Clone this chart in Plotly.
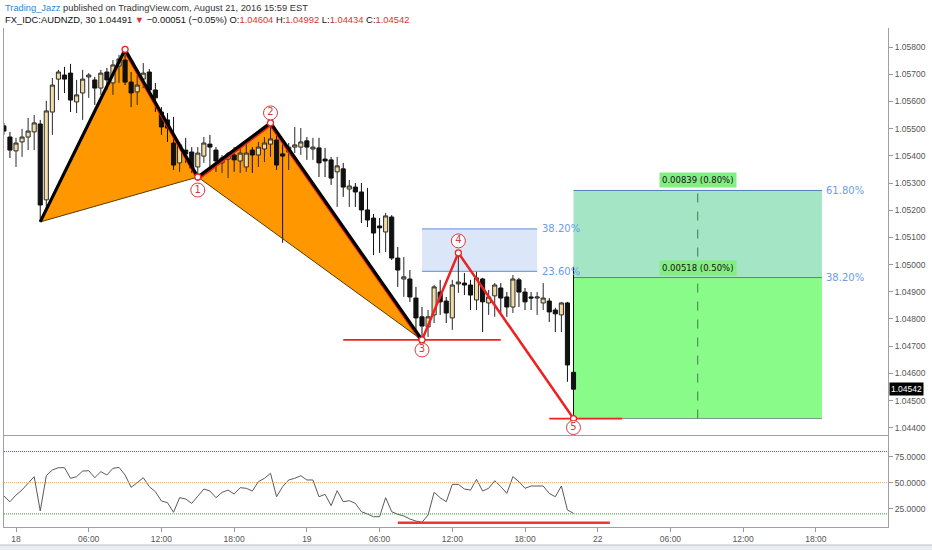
import plotly.graph_objects as go

# ---------------- data ----------------
bar_index = list(range(-2, 93))
open_ = [1.05510, 1.05469, 1.05418, 1.05451, 1.05469, 1.05488, 1.05517, 1.05238, 1.05561, 1.05682,
         1.05697, 1.05704, 1.05598, 1.05631, 1.05690, 1.05679, 1.05649, 1.05708, 1.05668, 1.05730,
         1.05752, 1.05671, 1.05635, 1.05682, 1.05708, 1.05642, 1.05561, 1.05532, 1.05447, 1.05374,
         1.05421, 1.05414, 1.05359, 1.05399, 1.05443, 1.05421, 1.05374, 1.05388, 1.05403, 1.05381,
         1.05359, 1.05421, 1.05403, 1.05425, 1.05443, 1.05458, 1.05407, 1.05414, 1.05432, 1.05432,
         1.05455, 1.05425, 1.05429, 1.05388, 1.05385, 1.05341, 1.05352, 1.05278, 1.05285, 1.05267,
         1.05201, 1.05171, 1.05142, 1.05120, 1.05175, 1.05024, 1.04947, 1.04947, 1.04877, 1.04808,
         1.04771, 1.04815, 1.04899, 1.04866, 1.04804, 1.04929, 1.04932, 1.04925, 1.04870, 1.04947,
         1.04859, 1.04885, 1.04914, 1.04881, 1.04844, 1.04944, 1.04899, 1.04881, 1.04877, 1.04859,
         1.04866, 1.04833, 1.04815, 1.04859, 1.04604]
high = [1.05521, 1.05488, 1.05466, 1.05499, 1.05539, 1.05550, 1.05532, 1.05602, 1.05686, 1.05716,
        1.05727, 1.05738, 1.05679, 1.05716, 1.05704, 1.05690, 1.05716, 1.05723, 1.05752, 1.05771,
        1.05791, 1.05708, 1.05697, 1.05741, 1.05719, 1.05668, 1.05579, 1.05557, 1.05543, 1.05451,
        1.05466, 1.05432, 1.05432, 1.05469, 1.05477, 1.05432, 1.05403, 1.05414, 1.05432, 1.05436,
        1.05447, 1.05432, 1.05451, 1.05469, 1.05521, 1.05488, 1.05458, 1.05447, 1.05506, 1.05502,
        1.05469, 1.05466, 1.05466, 1.05429, 1.05396, 1.05396, 1.05374, 1.05311, 1.05300, 1.05300,
        1.05282, 1.05186, 1.05171, 1.05190, 1.05182, 1.05065, 1.05028, 1.04980, 1.04918, 1.04844,
        1.04833, 1.04925, 1.04944, 1.04881, 1.04944, 1.05043, 1.04969, 1.04944, 1.04973, 1.04951,
        1.04907, 1.04932, 1.04932, 1.04899, 1.04962, 1.04951, 1.04914, 1.04899, 1.04899, 1.04932,
        1.04877, 1.04841, 1.04863, 1.04863, 1.04992]
low = [1.05477, 1.05392, 1.05359, 1.05396, 1.05421, 1.05421, 1.05157, 1.05201, 1.05477, 1.05605,
       1.05631, 1.05561, 1.05557, 1.05532, 1.05613, 1.05587, 1.05624, 1.05642, 1.05624, 1.05668,
       1.05660, 1.05579, 1.05587, 1.05649, 1.05624, 1.05561, 1.05477, 1.05451, 1.05348, 1.05341,
       1.05374, 1.05337, 1.05322, 1.05374, 1.05341, 1.05341, 1.05337, 1.05318, 1.05341, 1.05337,
       1.05341, 1.05337, 1.05359, 1.05377, 1.05396, 1.05348, 1.05080, 1.05348, 1.05410, 1.05403,
       1.05385, 1.05385, 1.05322, 1.05322, 1.05293, 1.05212, 1.05249, 1.05212, 1.05212, 1.05153,
       1.05138, 1.05035, 1.05043, 1.05046, 1.05017, 1.04918, 1.04881, 1.04863, 1.04760, 1.04723,
       1.04734, 1.04785, 1.04815, 1.04785, 1.04760, 1.04896, 1.04888, 1.04833, 1.04833, 1.04752,
       1.04815, 1.04808, 1.04822, 1.04808, 1.04822, 1.04844, 1.04833, 1.04833, 1.04815, 1.04833,
       1.04789, 1.04752, 1.04752, 1.04569, 1.04434]
close = [1.05491, 1.05421, 1.05447, 1.05469, 1.05491, 1.05521, 1.05219, 1.05565, 1.05660, 1.05708,
         1.05682, 1.05605, 1.05624, 1.05682, 1.05697, 1.05649, 1.05704, 1.05679, 1.05734, 1.05756,
         1.05671, 1.05631, 1.05660, 1.05704, 1.05642, 1.05613, 1.05506, 1.05502, 1.05366, 1.05440,
         1.05407, 1.05355, 1.05410, 1.05447, 1.05432, 1.05381, 1.05392, 1.05407, 1.05385, 1.05410,
         1.05410, 1.05403, 1.05432, 1.05447, 1.05462, 1.05366, 1.05399, 1.05432, 1.05440, 1.05451,
         1.05432, 1.05432, 1.05374, 1.05381, 1.05318, 1.05363, 1.05285, 1.05289, 1.05267, 1.05201,
         1.05164, 1.05116, 1.05135, 1.05179, 1.05024, 1.04980, 1.04955, 1.04881, 1.04804, 1.04774,
         1.04808, 1.04918, 1.04863, 1.04822, 1.04925, 1.04936, 1.04925, 1.04888, 1.04951, 1.04863,
         1.04881, 1.04925, 1.04877, 1.04844, 1.04947, 1.04899, 1.04863, 1.04877, 1.04881, 1.04877,
         1.04826, 1.04819, 1.04859, 1.04631, 1.04542]
rsi = [37.2, 31.7, 38.1, 43.0, 49.5, 55.8, 22.8, 56.7, 62.2, 64.4,
       64.4, 54.2, 55.8, 61.2, 61.5, 54.8, 60.6, 57.4, 63.8, 64.7,
       57.4, 45.5, 50.0, 54.8, 46.2, 41.3, 32.4, 30.8, 21.5, 35.6,
       34.3, 30.1, 37.0, 43.9, 42.0, 35.6, 40.7, 42.9, 39.1, 45.2,
       44.6, 42.0, 51.0, 54.2, 59.0, 36.5, 46.2, 52.6, 54.2, 56.7,
       52.6, 52.6, 36.5, 38.8, 27.9, 42.3, 31.7, 32.7, 30.1, 22.1,
       19.9, 17.3, 17.3, 35.6, 22.1, 19.6, 18.0, 15.1, 13.1, 11.9,
       18.9, 40.7, 35.6, 31.7, 48.4, 48.4, 43.9, 42.9, 53.2, 42.0,
       44.6, 51.9, 46.2, 39.7, 55.8, 51.0, 44.6, 46.8, 46.8, 46.8,
       39.7, 36.5, 46.8, 23.7, 20.5]

tick_index = [0, 12, 24, 36, 48, 60, 72, 84, 96, 108, 120, 132]
tick_labels = ["18", "06:00", "12:00", "18:00", "19", "06:00", "12:00", "18:00",
               "22", "06:00", "12:00", "18:00"]
price_ticks = [1.044, 1.045, 1.046, 1.047, 1.048, 1.049, 1.050, 1.051, 1.052,
               1.053, 1.054, 1.055, 1.056, 1.057, 1.058]
rsi_ticks = [25, 50, 75]
rsi_levels = [80, 50, 20]
rsi_level_colors = ["#e53935", "#f5a04a", "#3d9a3d"]

# XABCD-style pattern points: X, A, B(1), C(2), D(3), E(4), F(5)
pattern_idx = [4, 18, 30, 42, 67, 73, 92]
pattern_px = [1.05157, 1.05791, 1.05322, 1.05521, 1.04723, 1.05043, 1.04434]
point_labels = ["1", "2", "3", "4", "5"]

fib_box_ratios = [0.236, 0.382]      # retracement A -> D
target_ratios = [0.382, 0.618]       # retracement A -> F
fib_box_span = (67, 86)
target_span = (92, 133)
d_line_span = (54, 80)
f_line_span = (88, 100)
rsi_line_span = (63, 98)
rsi_line_value = 11.5
last_price = 1.04542

# ---------------- geometry ----------------
FONT = "Liberation Sans, Arial, sans-serif"
W, H = 932, 550
ML, MR, MT, MB = 4, 44, 28, 23
plot_h = H - MT - MB
main_dom = [0.184, 1.0]
rsi_dom = [0.0, 0.182]
y_min, y_max = 1.043728, 1.058699
x_rng = [-1.98, 143.9]
rsi_rng = [7.4, 94.7]
ppx = (y_max - y_min) / (plot_h * (main_dom[1] - main_dom[0]))  # price per pixel

X, A, B, C, D, E, F = list(zip(pattern_idx, pattern_px))

fig = go.Figure()

# candles
fig.add_trace(go.Candlestick(
    x=bar_index, open=open_, high=high, low=low, close=close,
    increasing=dict(line=dict(color="#2a2a2a", width=1), fillcolor="#f2dca6"),
    decreasing=dict(line=dict(color="#111111", width=1), fillcolor="#111111"),
    whiskerwidth=0, hoverinfo="skip", xaxis="x", yaxis="y"))

# pattern lines
red = "#ee2222"
off = 2.3 * ppx
seg = [A, B, C, D]
fig.add_trace(go.Scatter(x=[p[0] for p in seg], y=[p[1] - off for p in seg],
                         mode="lines", line=dict(color=red, width=2.5),
                         hoverinfo="skip", xaxis="x", yaxis="y"))
fig.add_trace(go.Scatter(x=[X[0], B[0]], y=[X[1], B[1]], mode="lines",
                         line=dict(color="#5a3b00", width=1), hoverinfo="skip"))
fig.add_trace(go.Scatter(x=[B[0], D[0]], y=[B[1], D[1]], mode="lines",
                         line=dict(color="#5a3b00", width=1), hoverinfo="skip"))
fig.add_trace(go.Scatter(x=[X[0], A[0], B[0], C[0], D[0]], y=[X[1], A[1], B[1], C[1], D[1]],
                         mode="lines", line=dict(color="#000000", width=3.2), hoverinfo="skip"))
fig.add_trace(go.Scatter(x=[D[0], E[0], F[0]], y=[D[1], E[1], F[1]], mode="lines",
                         line=dict(color=red, width=2.5), hoverinfo="skip"))

# horizontal red lines at D and F
fig.add_trace(go.Scatter(x=list(d_line_span), y=[D[1], D[1]], mode="lines",
                         line=dict(color=red, width=1.8), hoverinfo="skip"))
fig.add_trace(go.Scatter(x=list(f_line_span), y=[F[1], F[1]], mode="lines",
                         line=dict(color=red, width=1.8), hoverinfo="skip"))

# small vertex markers
fig.add_trace(go.Scatter(x=[A[0], B[0], C[0], D[0], E[0], F[0]],
                         y=[A[1], B[1], C[1], D[1], E[1], F[1]], mode="markers",
                         marker=dict(size=6, color="white", line=dict(color=red, width=1.3)),
                         hoverinfo="skip"))

# numbered circles
label_pts = [B, C, D, E, F]
label_dir = [-13, 10, -10, 12, -9]
fig.add_trace(go.Scatter(
    x=[p[0] for p in label_pts],
    y=[p[1] + d * ppx for p, d in zip(label_pts, label_dir)],
    mode="markers+text", text=point_labels, textposition="middle center",
    textfont=dict(color="#d63a3a", size=10, family="DejaVu Sans"),
    marker=dict(size=14, color="white", line=dict(color="#d63a3a", width=1)),
    hoverinfo="skip"))

# RSI
fig.add_trace(go.Scatter(x=bar_index, y=rsi, mode="lines", line=dict(color="#5a5a5a", width=1),
                         hoverinfo="skip", xaxis="x2", yaxis="y2"))
for lv, col in zip(rsi_levels, rsi_level_colors):
    fig.add_trace(go.Scatter(x=x_rng, y=[lv, lv], mode="lines",
                             line=dict(color=col, width=1, dash="1px,1px"),
                             hoverinfo="skip", xaxis="x2", yaxis="y2"))
fig.add_trace(go.Scatter(x=list(rsi_line_span), y=[rsi_line_value] * 2, mode="lines",
                         line=dict(color="#f03535", width=2.5), hoverinfo="skip",
                         xaxis="x2", yaxis="y2"))

shapes = []
# orange triangles
for tri in ([X, A, B], [B, C, D]):
    path = "M {},{} L {},{} L {},{} Z".format(tri[0][0], tri[0][1], tri[1][0], tri[1][1],
                                             tri[2][0], tri[2][1])
    shapes.append(dict(type="path", path=path, xref="x", yref="y", fillcolor="#ff9800",
                       line=dict(width=0), layer="below"))

# fib box A->D
fib_lv = [D[1] + r * (A[1] - D[1]) for r in fib_box_ratios]
shapes.append(dict(type="rect", xref="x", yref="y", x0=fib_box_span[0], x1=fib_box_span[1],
                   y0=fib_lv[0], y1=fib_lv[1], fillcolor="#dbe6f8", line=dict(width=0),
                   layer="below"))
for lv in fib_lv:
    shapes.append(dict(type="line", xref="x", yref="y", x0=fib_box_span[0], x1=fib_box_span[1],
                       y0=lv, y1=lv, line=dict(color="#7aa3e0", width=1.2), layer="below"))

# target box A->F
tgt = [F[1] + r * (A[1] - F[1]) for r in target_ratios]
shapes.append(dict(type="rect", xref="x", yref="y", x0=target_span[0], x1=target_span[1],
                   y0=F[1], y1=tgt[0], fillcolor="#88fb88", line=dict(width=0), layer="below"))
shapes.append(dict(type="rect", xref="x", yref="y", x0=target_span[0], x1=target_span[1],
                   y0=tgt[0], y1=tgt[1], fillcolor="#a3e5c4", line=dict(width=0), layer="below"))
for lv, col in ((tgt[0], "#4f7fb8"), (tgt[1], "#4f7fb8"), (F[1], "#7a9a8a")):
    shapes.append(dict(type="line", xref="x", yref="y", x0=target_span[0], x1=target_span[1],
                       y0=lv, y1=lv, line=dict(color=col, width=1), layer="below"))
mid = (target_span[0] + target_span[1]) / 2
shapes.append(dict(type="line", xref="x", yref="y", x0=mid, x1=mid, y0=F[1], y1=tgt[1],
                   line=dict(color="#3f7a4a", width=1, dash="dash"), layer="below"))

# frame: bottom band
shapes.append(dict(type="rect", xref="paper", yref="paper", x0=-0.01, x1=1.06,
                   y0=-(545 - (H - MB)) / plot_h, y1=-0.2, fillcolor="#eaeef3",
                   line=dict(color="#c0c0c0", width=1), layer="above"))

ann = []
lbl_font = dict(family="DejaVu Sans", size=10, color="#6c9de6")
for lv, r in zip(fib_lv, fib_box_ratios):
    ann.append(dict(x=fib_box_span[1] + 0.4, y=lv, xref="x", yref="y", text=f"{r*100:.2f}%",
                    showarrow=False, xanchor="left", yanchor="middle", font=lbl_font))
for lv, r in zip(tgt, target_ratios):
    ann.append(dict(x=target_span[1] + 0.4, y=lv, xref="x", yref="y", text=f"{r*100:.2f}%",
                    showarrow=False, xanchor="left", yanchor="middle", font=lbl_font))
for lv in tgt:
    dlt = lv - F[1]
    ann.append(dict(x=mid, y=lv, xref="x", yref="y", yshift=10,
                    text=f"{dlt:.5f} ({dlt / F[1] * 100:.2f}%)", showarrow=False,
                    bgcolor="#84ee84", borderpad=2,
                    font=dict(family="DejaVu Sans", size=8.5, color="#111111")))
# last price tag
ann.append(dict(x=1, y=last_price, xref="paper", yref="y", xanchor="left", xshift=1,
                text=f"{last_price:.5f}", showarrow=False, bgcolor="#000000", borderpad=1,
                font=dict(family=FONT, size=8.5, color="white")))
# header
rc = "#e0332e"
line1 = ("<span style='color:#2b86d8'>Trading_Jazz</span> published on TradingView.com, "
         "August 21, 2016 15:59 EST")
line2 = ("FX_IDC:AUDNZD, 30 1.04491 <span style='color:%s'>▼</span> −0.00051 (−0.05%%) "
         "O:<span style='color:%s'>1.04604</span> H:<span style='color:%s'>1.04992</span> "
         "L:<span style='color:%s'>1.04434</span> C:<span style='color:%s'>1.04542</span>"
         % (rc, rc, rc, rc, rc))
ann.append(dict(x=0, y=1 + (MT - 8) / plot_h, xref="paper", yref="paper", xanchor="left",
                yanchor="middle", text=line1, showarrow=False, xshift=-1,
                font=dict(family=FONT, size=9.3, color="#333333")))
ann.append(dict(x=0, y=1 + (MT - 20) / plot_h, xref="paper", yref="paper", xanchor="left",
                yanchor="middle", text=line2, showarrow=False, xshift=-1,
                font=dict(family=FONT, size=9.4, color="#111111")))

axfont = dict(family=FONT, size=8.5, color="#555555")
fig.update_layout(
    width=W, height=H, margin=dict(l=ML, r=MR, t=MT, b=MB),
    paper_bgcolor="white", plot_bgcolor="white", showlegend=False,
    boxgap=0.2, boxgroupgap=0.15,
    shapes=shapes, annotations=ann,
    xaxis=dict(domain=[0, 1], range=x_rng, anchor="y", showticklabels=False, showgrid=False,
               zeroline=False, showline=True, linecolor="#a0a0a0", ticks="",
               rangeslider=dict(visible=False)),
    yaxis=dict(domain=main_dom, range=[y_min, y_max], side="right", anchor="x",
               tickmode="array", tickvals=price_ticks,
               ticktext=[f"{v:.5f}" for v in price_ticks],
               ticks="outside", ticklen=4, tickcolor="#999999", showline=True,
               linecolor="#a0a0a0", mirror=True, showgrid=False, zeroline=False,
               tickfont=axfont),
    xaxis2=dict(domain=[0, 1], range=x_rng, anchor="y2", tickmode="array",
                tickvals=tick_index, ticktext=tick_labels, ticks="outside", ticklen=4,
                tickcolor="#999999", showline=True, linecolor="#a0a0a0", showgrid=False,
                zeroline=False, tickfont=axfont),
    yaxis2=dict(domain=rsi_dom, range=rsi_rng, side="right", anchor="x2", tickmode="array",
                tickvals=rsi_ticks, ticktext=[f"{v:.4f}" for v in rsi_ticks],
                ticks="outside", ticklen=4, tickcolor="#999999", showline=True,
                linecolor="#a0a0a0", mirror=True, showgrid=False, zeroline=False,
                tickfont=axfont),
)

fig.write_html("out.html", config={"displayModeBar": False},
               post_script="document.body.style.margin='0';")
